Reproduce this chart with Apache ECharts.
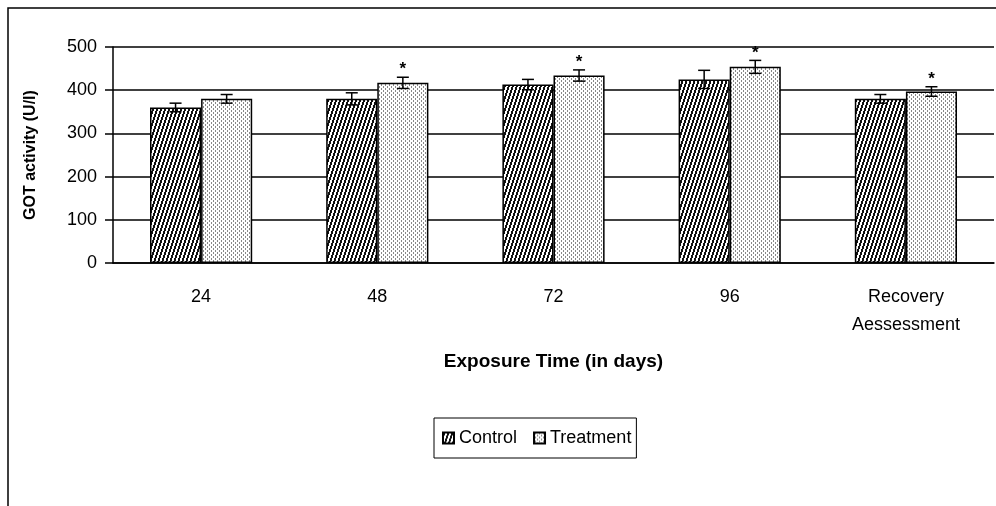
<!DOCTYPE html>
<html>
<head>
<meta charset="utf-8">
<script src="https://cdn.jsdelivr.net/npm/echarts@6/dist/echarts.min.js"></script>
<style>
  html, body { margin: 0; padding: 0; background: #fff; }
  #main { width: 996px; height: 506px; }
</style>
</head>
<body>
<div id="main"></div>
<script>
// data
const categories = ['24', '48', '72', '96', 'Recovery\nAessessment'];
const controlMean = [360, 380, 413, 425, 380];
const controlErr = [10, 14, 12, 21, 10];
const treatmentMean = [380, 417, 434, 454, 397];
const treatmentErr = [10, 13, 13, 15, 11];
const treatmentStar = [0, 1, 1, 1, 1];
const yMin = 0, yMax = 500, yStep = 100;

const FONT = 'Liberation Sans, Arial, sans-serif';

// hatch fills, drawn pixel by pixel
function makePattern(w, h, fn) {
  const c = document.createElement('canvas');
  c.width = w; c.height = h;
  const ctx = c.getContext('2d');
  ctx.fillStyle = '#fff';
  ctx.fillRect(0, 0, w, h);
  for (let x = 0; x < w; x++) {
    for (let y = 0; y < h; y++) {
      const col = fn(x, y);
      if (col) { ctx.fillStyle = col; ctx.fillRect(x, y, 1, 1); }
    }
  }
  return c;
}
const controlFill = makePattern(4, 12, (x, y) => ((3 * x + y) % 12) < 6 ? '#111' : null);
const treatmentFill = makePattern(4, 4, (x, y) =>
  (x === 1 && y < 2) || (x === 3 && y >= 2) ? '#888' : null);

const barGapPct = 0.42;

function errorBars(side) {
  return function (params, api) {
    const idx = api.value(0);
    const mean = api.value(1);
    const err = api.value(2);
    const catW = api.size([1, 0])[0];
    const barW = catW * (1 - barGapPct) / 2;
    const cx = api.coord([idx, mean])[0] + side * barW / 2;
    const hi = api.coord([idx, mean + err])[1];
    const lo = api.coord([idx, mean - err])[1];
    const cap = 6;
    const st = { stroke: '#000', lineWidth: 1.5 };
    const kids = [
      { type: 'line', shape: { x1: cx, y1: hi, x2: cx, y2: lo }, style: st },
      { type: 'line', shape: { x1: cx - cap, y1: hi, x2: cx + cap, y2: hi }, style: st },
      { type: 'line', shape: { x1: cx - cap, y1: lo, x2: cx + cap, y2: lo }, style: st }
    ];
    if (api.value(3)) {
      kids.push({
        type: 'text', x: cx, y: hi + 1,
        style: { text: '*', fill: '#000', font: 'bold 17px ' + FONT, align: 'center', verticalAlign: 'bottom' }
      });
    }
    return { type: 'group', children: kids };
  };
}

const chart = echarts.init(document.getElementById('main'));

const option = {
  animation: false,
  backgroundColor: '#fff',
  textStyle: { fontFamily: FONT, color: '#000' },
  graphic: [{
    type: 'rect', z: 100,
    shape: { x: 8, y: 8, width: 1100, height: 700 },
    style: { fill: 'none', stroke: '#000', lineWidth: 1.5 }
  }],
  grid: { left: 113, right: 2, top: 47, bottom: 243 },
  legend: {
    data: ['Control', 'Treatment'],
    icon: 'rect',
    left: 434, top: 418,
    padding: [11, 5, 11, 8],
    itemWidth: 11, itemHeight: 11, itemGap: 16,
    borderColor: '#000', borderWidth: 1,
    textStyle: { fontSize: 18, fontFamily: FONT, color: '#000' }
  },
  xAxis: {
    type: 'category',
    data: categories,
    name: 'Exposure Time (in days)',
    nameLocation: 'middle',
    nameGap: 89,
    nameTextStyle: { fontSize: 19, fontWeight: 'bold', color: '#000', fontFamily: FONT },
    axisLine: { lineStyle: { color: '#000', width: 1.5 } },
    axisTick: { length: 7, lineStyle: { color: '#000', width: 1.5 } },
    axisLabel: { fontSize: 18, color: '#000', margin: 20, lineHeight: 28, fontFamily: FONT }
  },
  yAxis: {
    type: 'value',
    min: yMin, max: yMax, interval: yStep,
    name: 'GOT activity (U/l)',
    nameLocation: 'middle',
    nameRotate: 90,
    nameGap: 74,
    nameTextStyle: { fontSize: 16, fontWeight: 'bold', color: '#000', fontFamily: FONT },
    axisLine: { show: true, lineStyle: { color: '#000', width: 1.5 } },
    axisTick: { show: true, length: 8, lineStyle: { color: '#000', width: 1.5 } },
    axisLabel: { fontSize: 18, color: '#000', margin: 16, fontFamily: FONT },
    splitLine: { lineStyle: { color: '#000', width: 1.5 } }
  },
  series: [
    {
      name: 'Control', type: 'bar',
      data: controlMean,
      barGap: '0%', barCategoryGap: (barGapPct * 100) + '%',
      itemStyle: { color: { image: controlFill, repeat: 'repeat' }, borderColor: '#000', borderWidth: 1.5 }
    },
    {
      name: 'Treatment', type: 'bar',
      data: treatmentMean,
      itemStyle: { color: { image: treatmentFill, repeat: 'repeat' }, borderColor: '#000', borderWidth: 1.5 }
    },
    {
      type: 'custom', name: 'controlErr', z: 10,
      renderItem: errorBars(-1),
      encode: { x: 0, y: 1 },
      data: controlMean.map((v, i) => [i, v, controlErr[i], 0])
    },
    {
      type: 'custom', name: 'treatmentErr', z: 10,
      renderItem: errorBars(1),
      encode: { x: 0, y: 1 },
      data: treatmentMean.map((v, i) => [i, v, treatmentErr[i], treatmentStar[i]])
    }
  ]
};

chart.setOption(option);
</script>
</body>
</html>
